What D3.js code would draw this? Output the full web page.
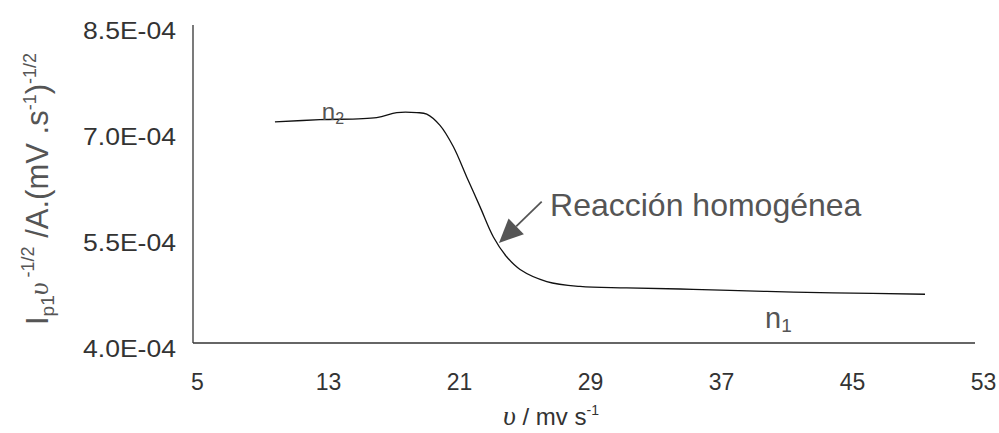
<!DOCTYPE html>
<html>
<head>
<meta charset="utf-8">
<script src="https://cdn.jsdelivr.net/npm/d3@7"></script>
<style>
  html, body { margin: 0; padding: 0; background: #fff; }
  svg { display: block; font-family: "Liberation Sans", Arial, sans-serif; }
</style>
</head>
<body>
<div id="chart"></div>
<script>
const WIDTH = 999;
const HEIGHT = 433;

// scan rate (mV/s) and normalised peak current
const rate = [9.76, 12.51, 15.97, 17.20, 18.42, 19.03, 19.84, 20.65, 21.47, 22.28,
              23.10, 23.91, 24.73, 26.36, 28.39, 31.24, 35.29, 39.79, 43.84, 49.46];
const current = [7.13e-4, 7.16e-4, 7.19e-4, 7.26e-4, 7.26e-4, 7.24e-4, 7.08e-4, 6.78e-4, 6.35e-4, 5.93e-4,
                 5.50e-4, 5.22e-4, 5.04e-4, 4.87e-4, 4.80e-4, 4.78e-4, 4.76e-4, 4.73e-4, 4.71e-4, 4.69e-4];

const xTicks = [5, 13, 21, 29, 37, 45, 53];
const yTicks = [4.0e-4, 5.5e-4, 7.0e-4, 8.5e-4];
const yTickLabels = ["4.0E-04", "5.5E-04", "7.0E-04", "8.5E-04"];

// annotation anchors, in data units
const arrowTip = [23.44, 5.415e-4];
const arrowTail = [26.05, 6.0e-4];
const noteText = "Reacción homogénea";
const notePos = [26.56, 5.797e-4];
const n2Pos = [12.62, 7.156e-4];
const n1Pos = [39.69, 4.212e-4];

let svg = d3.select("#chart")
            .append("svg")
            .attr("width", WIDTH)
            .attr("height", HEIGHT);

let x = d3.scaleLinear().domain([5, 53]).range([197, 983]);
let y = d3.scaleLinear().domain([4.0e-4, 8.5e-4]).range([343, 25]);

// x axis
let xAxis = svg.append("g")
    .attr("transform", `translate(0,${y(4.0e-4)})`)
    .call(d3.axisBottom(x).tickValues(xTicks).tickSize(0).tickPadding(0).tickFormat(d3.format("d")));
xAxis.select(".domain").remove();
xAxis.selectAll("text")
    .attr("y", 47)
    .attr("dy", 0)
    .attr("fill", "#333")
    .style("font-size", "23px")
    .style("font-family", "\"Liberation Sans\", Arial, sans-serif");
svg.append("line")
    .attr("x1", x(5) - 4).attr("x2", x(53) - 8)
    .attr("y1", y(4.0e-4)).attr("y2", y(4.0e-4))
    .attr("stroke", "#333").attr("stroke-width", 1.3);

// y axis
let yAxis = svg.append("g")
    .attr("transform", `translate(${x(5) - 4},0)`)
    .call(d3.axisLeft(y).tickValues(yTicks).tickSize(0).tickPadding(0)
          .tickFormat((d, i) => yTickLabels[i]));
yAxis.select(".domain").remove();
yAxis.selectAll("text")
    .attr("x", -17)
    .attr("dy", 13)
    .attr("fill", "#333")
    .attr("textLength", 93)
    .attr("lengthAdjust", "spacingAndGlyphs")
    .style("font-size", "23px")
    .style("font-family", "\"Liberation Sans\", Arial, sans-serif");
svg.append("line")
    .attr("x1", x(5) - 4).attr("x2", x(5) - 4)
    .attr("y1", y(8.5e-4)).attr("y2", y(4.0e-4))
    .attr("stroke", "#333").attr("stroke-width", 1.3);

// curve
let line = d3.line()
    .x((d, i) => x(rate[i]))
    .y((d, i) => y(current[i]))
    .curve(d3.curveCatmullRom.alpha(0.5));
svg.append("path")
    .datum(rate)
    .attr("d", line)
    .attr("fill", "none")
    .attr("stroke", "#111")
    .attr("stroke-width", 1.3);

// arrow annotation
let tx = x(arrowTip[0]), ty = y(arrowTip[1]);
let sx = x(arrowTail[0]), sy = y(arrowTail[1]);
let ang = Math.atan2(ty - sy, tx - sx);
let headLen = 24, headHalf = 11;
let bx = tx - headLen * Math.cos(ang), by = ty - headLen * Math.sin(ang);
svg.append("line")
    .attr("x1", sx).attr("y1", sy).attr("x2", bx).attr("y2", by)
    .attr("stroke", "#555").attr("stroke-width", 1.8);
svg.append("polygon")
    .attr("points", [
        [tx, ty],
        [bx + headHalf * Math.sin(ang), by - headHalf * Math.cos(ang)],
        [bx - headHalf * Math.sin(ang), by + headHalf * Math.cos(ang)]
    ].map(p => p.join(",")).join(" "))
    .attr("fill", "#555");

svg.append("text")
    .attr("x", x(notePos[0]))
    .attr("y", y(notePos[1]))
    .attr("fill", "#555")
    .style("font-size", "32px")
    .text(noteText);

// n labels
let n2 = svg.append("text")
    .attr("x", x(n2Pos[0])).attr("y", y(n2Pos[1]))
    .attr("fill", "#555").style("font-size", "24px");
n2.append("tspan").text("n");
n2.append("tspan").attr("dy", 4).style("font-size", "16px").text("2");

let n1 = svg.append("text")
    .attr("x", x(n1Pos[0])).attr("y", y(n1Pos[1]))
    .attr("fill", "#555").style("font-size", "29px");
n1.append("tspan").text("n");
n1.append("tspan").attr("dy", 4).style("font-size", "19px").text("1");

// x title
let xt = svg.append("text")
    .attr("x", 503).attr("y", 425)
    .attr("fill", "#333")
    .style("font-size", "24px");
xt.append("tspan").style("font-family", "\"Liberation Serif\", \"Times New Roman\", serif")
    .style("font-style", "italic").style("font-size", "28px").text("υ");
xt.append("tspan").text(" / mv s");
xt.append("tspan").attr("dy", -10).style("font-size", "14px").text("-1");

// y title
let yt = svg.append("text")
    .attr("transform", "translate(48,189) rotate(-90)")
    .attr("text-anchor", "middle")
    .attr("fill", "#555")
    .style("font-size", "31px");
yt.append("tspan").text("I");
yt.append("tspan").attr("dy", 6).style("font-size", "19px").text("p1");
yt.append("tspan").attr("dy", -6)
    .style("font-family", "\"Liberation Serif\", \"Times New Roman\", serif")
    .style("font-style", "italic").style("font-size", "28px").text("υ");
yt.append("tspan").attr("dy", -14).style("font-size", "18px").text(" -1/2");
yt.append("tspan").attr("dy", 14).text(" /A.(mV .s");
yt.append("tspan").attr("dy", -12).style("font-size", "18px").text("-1");
yt.append("tspan").attr("dy", 12).text(")");
yt.append("tspan").attr("dy", -12).style("font-size", "18px").text("-1/2");
</script>
</body>
</html>
